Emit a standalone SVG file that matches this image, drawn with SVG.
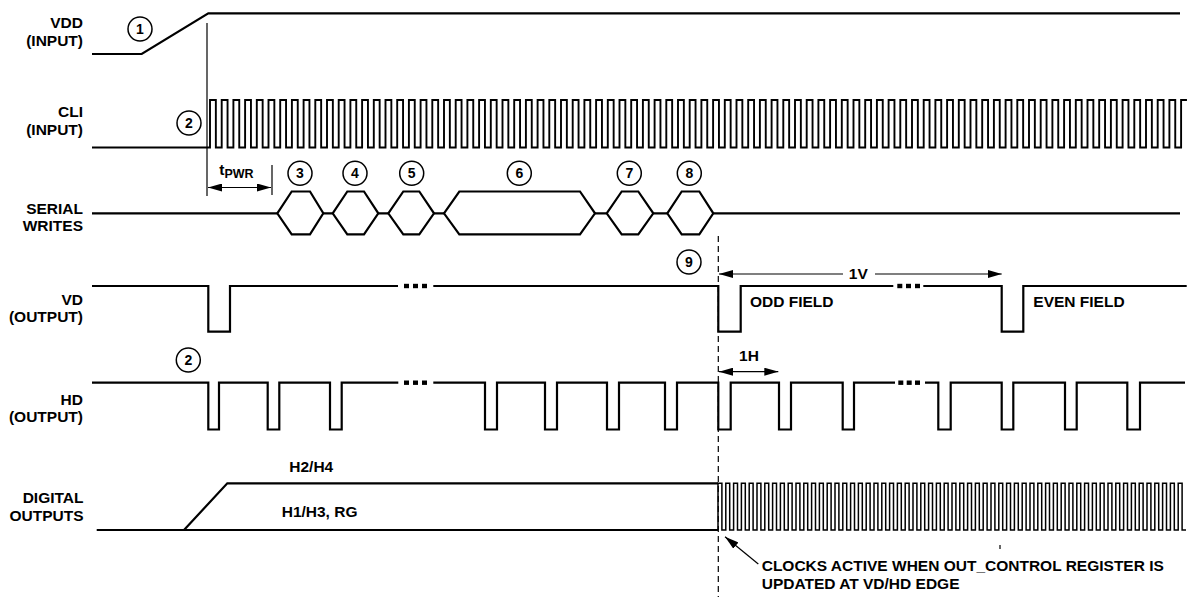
<svg xmlns="http://www.w3.org/2000/svg" width="1204" height="597" viewBox="0 0 1204 597">
<style>
.w{fill:none;stroke:#000;stroke-width:2.2;stroke-linejoin:miter;stroke-linecap:butt}
.ck{fill:none;stroke:#000;stroke-width:1.9;stroke-linejoin:miter}
.ck2{fill:none;stroke:#000;stroke-width:1.5;stroke-linejoin:miter}
.thin{fill:none;stroke:#000;stroke-width:1.2}
.hex{fill:none;stroke:#000;stroke-width:2.2;stroke-linejoin:miter}
.t{font-family:"Liberation Sans",Arial,Helvetica,sans-serif;font-weight:bold;font-size:15.5px;fill:#000}
.lbl{text-anchor:end}
.cn circle{fill:#fff;stroke:#000;stroke-width:1.5}
.cn text{font-family:"Liberation Sans",Arial,Helvetica,sans-serif;font-weight:bold;font-size:14px;text-anchor:middle;fill:#000}
.dot{fill:#000}
</style>
<defs>
<marker id="ah" viewBox="0 0 14 8" refX="14" refY="4" markerWidth="14" markerHeight="8" markerUnits="userSpaceOnUse" orient="auto-start-reverse"><path d="M0,0 L14,4 L0,8 z" fill="#000"/></marker>
</defs>
<rect width="1204" height="597" fill="#fff"/>

<g id="vdd">
<text class="t lbl" x="83" y="28">VDD</text>
<text class="t lbl" x="83" y="45.5">(INPUT)</text>
<path class="w" d="M92,54 H141.7 L208.3,13.3 H1180"/>
<g class="cn"><circle cx="140" cy="29" r="12"/><text x="140" y="34">1</text></g>
</g>

<g id="cli">
<text class="t lbl" x="83" y="117">CLI</text>
<text class="t lbl" x="83" y="134.5">(INPUT)</text>
<path class="ck" d="M92,147.5 H210 V100
h5.85v47.5h5.85v-47.5h5.85v47.5h5.85v-47.5h5.85v47.5h5.85v-47.5h5.85v47.5h5.85v-47.5h5.85v47.5h5.85v-47.5h5.85v47.5h5.85v-47.5h5.85v47.5h5.85v-47.5h5.85v47.5h5.85v-47.5h5.85v47.5h5.85v-47.5h5.85v47.5h5.85v-47.5
h5.85v47.5h5.85v-47.5h5.85v47.5h5.85v-47.5h5.85v47.5h5.85v-47.5h5.85v47.5h5.85v-47.5h5.85v47.5h5.85v-47.5h5.85v47.5h5.85v-47.5h5.85v47.5h5.85v-47.5h5.85v47.5h5.85v-47.5h5.85v47.5h5.85v-47.5h5.85v47.5h5.85v-47.5
h5.85v47.5h5.85v-47.5h5.85v47.5h5.85v-47.5h5.85v47.5h5.85v-47.5h5.85v47.5h5.85v-47.5h5.85v47.5h5.85v-47.5h5.85v47.5h5.85v-47.5h5.85v47.5h5.85v-47.5h5.85v47.5h5.85v-47.5h5.85v47.5h5.85v-47.5h5.85v47.5h5.85v-47.5
h5.85v47.5h5.85v-47.5h5.85v47.5h5.85v-47.5h5.85v47.5h5.85v-47.5h5.85v47.5h5.85v-47.5h5.85v47.5h5.85v-47.5h5.85v47.5h5.85v-47.5h5.85v47.5h5.85v-47.5h5.85v47.5h5.85v-47.5h5.85v47.5h5.85v-47.5h5.85v47.5h5.85v-47.5
h5.85v47.5h5.85v-47.5h5.85v47.5h5.85v-47.5h5.85v47.5h5.85v-47.5h5.85v47.5h5.85v-47.5h5.85v47.5h5.85v-47.5h5.85v47.5h5.85v-47.5h5.85v47.5h5.85v-47.5h5.85v47.5h5.85v-47.5h5.85v47.5h5.85v-47.5h5.85v47.5h5.85v-47.5
h5.85v47.5h5.85v-47.5h5.85v47.5h5.85v-47.5h5.85v47.5h5.85v-47.5h5.85v47.5h5.85v-47.5h5.85v47.5h5.85v-47.5h5.85v47.5h5.85v-47.5h5.85v47.5h5.85v-47.5h5.85v47.5h5.85v-47.5h5.85v47.5h5.85v-47.5h5.85v47.5h5.85v-47.5
h5.85v47.5h5.85v-47.5h5.85v47.5h5.85v-47.5h5.85v47.5h5.85v-47.5h5.85v47.5h5.85v-47.5h5.85v47.5h5.85v-47.5h5.85v47.5h5.85v-47.5h5.85v47.5h5.85v-47.5h5.85v47.5h5.85v-47.5h5.85v47.5h5.85v-47.5h5.85v47.5h5.85v-47.5
h5.85v47.5h5.85v-47.5h5.85v47.5h5.85v-47.5h5.85v47.5h5.85v-47.5h5.85v47.5h5.85v-47.5h5.85v47.5h5.85v-47.5h5.85v47.5h5.85v-47.5h5.85v47.5h5.85v-47.5h5.85v47.5h5.85v-47.5h5.85v47.5h5.85v-47.5h5.85v47.5h5.85v-47.5
h5.85v47.5h5.85v-47.5h5.85v47.5h5.85v-47.5h5.85v47.5h5.85v-47.5h5.85"/>
<g class="cn"><circle cx="189" cy="123" r="12"/><text x="189" y="128">2</text></g>
</g>

<g id="serial">
<text class="t lbl" x="83" y="214">SERIAL</text>
<text class="t lbl" x="83" y="231">WRITES</text>
<path class="w" d="M92,213.3 H277.3 M323.3,213.3 H332.7 M378.3,213.3 H388.3 M434,213.3 H444 M595,213.3 H606.7 M653.3,213.3 H667.3 M713.3,213.3 H1180"/>
<polygon class="hex" points="277.3,213.3 291.7,191.5 310,191.5 323.3,213.3 310,234.3 291.7,234.3"/>
<polygon class="hex" points="332.7,213.3 347.3,191.5 364,191.5 378.3,213.3 364,234.3 347.3,234.3"/>
<polygon class="hex" points="388.3,213.3 403.3,191.5 419.3,191.5 434,213.3 419.3,234.3 403.3,234.3"/>
<polygon class="hex" points="444,213.3 459.3,191.5 580,191.5 595,213.3 580,234.3 459.3,234.3"/>
<polygon class="hex" points="606.7,213.3 621.7,191.5 638.3,191.5 653.3,213.3 638.3,234.3 621.7,234.3"/>
<polygon class="hex" points="667.3,213.3 681.7,191.5 699.3,191.5 713.3,213.3 699.3,234.3 681.7,234.3"/>
<g class="cn"><circle cx="300" cy="173.3" r="12"/><text x="300" y="178.3">3</text></g>
<g class="cn"><circle cx="355" cy="173.3" r="12"/><text x="355" y="178.3">4</text></g>
<g class="cn"><circle cx="411.7" cy="173.3" r="12"/><text x="411.7" y="178.3">5</text></g>
<g class="cn"><circle cx="519.3" cy="173.3" r="12"/><text x="519.3" y="178.3">6</text></g>
<g class="cn"><circle cx="629.3" cy="173.3" r="12"/><text x="629.3" y="178.3">7</text></g>
<g class="cn"><circle cx="689.3" cy="173.3" r="12"/><text x="689.3" y="178.3">8</text></g>
</g>

<g id="vd">
<text class="t lbl" x="83" y="305">VD</text>
<text class="t lbl" x="83" y="322">(OUTPUT)</text>
<path class="w" d="M92,286 H208.3 V331.7 H230 V286 H398 M433.3,286 H718.3 V331.7 H740.7 V286 H893.3 M923.3,286 H1001.7 V331.7 H1023.3 V286 H1186.7"/>
<rect class="dot" x="404" y="283.8" width="5" height="4.4"/>
<rect class="dot" x="413" y="283.8" width="5" height="4.4"/>
<rect class="dot" x="422" y="283.8" width="5" height="4.4"/>
<rect class="dot" x="897.3" y="283.8" width="5" height="4.4"/>
<rect class="dot" x="906" y="283.8" width="5" height="4.4"/>
<rect class="dot" x="915" y="283.8" width="5" height="4.4"/>
<text class="t" x="750" y="307">ODD FIELD</text>
<text class="t" x="1033.3" y="307">EVEN FIELD</text>
<g class="cn"><circle cx="689" cy="262" r="12"/><text x="689" y="267">9</text></g>
</g>

<g id="hd">
<text class="t lbl" x="83" y="405">HD</text>
<text class="t lbl" x="83" y="422">(OUTPUT)</text>
<path class="w" d="M92,382.7 H208.3 V429.5 H219 V382.7 H267.7 V429.5 H279.3 V382.7 H330 V429.5 H341.7 V382.7 H398.3 M433.3,382.7 H485 V429.5 H497 V382.7 H545 V429.5 H557 V382.7 H607 V429.5 H619 V382.7 H665 V429.5 H677 V382.7 H718.3 V429.5 H730.7 V382.7 H779 V429.5 H791 V382.7 H842.7 V429.5 H854 V382.7 H895 M925,382.7 H938.3 V429.5 H950.7 V382.7 H1001.7 V429.5 H1013.3 V382.7 H1065 V429.5 H1076.7 V382.7 H1127.3 V429.5 H1140 V382.7 H1185"/>
<rect class="dot" x="404" y="380.5" width="5" height="4.4"/>
<rect class="dot" x="413" y="380.5" width="5" height="4.4"/>
<rect class="dot" x="422" y="380.5" width="5" height="4.4"/>
<rect class="dot" x="898.3" y="380.5" width="5" height="4.4"/>
<rect class="dot" x="906.7" y="380.5" width="5" height="4.4"/>
<rect class="dot" x="915" y="380.5" width="5" height="4.4"/>
<g class="cn"><circle cx="188.3" cy="360" r="12"/><text x="188.3" y="365">2</text></g>
</g>

<g id="digital">
<text class="t lbl" x="83.5" y="503.3">DIGITAL</text>
<text class="t lbl" x="83.5" y="520.7">OUTPUTS</text>
<text class="t" x="289.3" y="471.7">H2/H4</text>
<text class="t" x="281.7" y="517.3">H1/H3, RG</text>
<path class="w" d="M96.7,530 H718 M184,530 L227.3,483.3 H718"/>
<path class="ck2" d="M718,530 V483.3
h3.9v46.7h3.9v-46.7h3.9v46.7h3.9v-46.7h3.9v46.7h3.9v-46.7h3.9v46.7h3.9v-46.7h3.9v46.7h3.9v-46.7h3.9v46.7h3.9v-46.7h3.9v46.7h3.9v-46.7h3.9v46.7h3.9v-46.7h3.9v46.7h3.9v-46.7h3.9v46.7h3.9v-46.7
h3.9v46.7h3.9v-46.7h3.9v46.7h3.9v-46.7h3.9v46.7h3.9v-46.7h3.9v46.7h3.9v-46.7h3.9v46.7h3.9v-46.7h3.9v46.7h3.9v-46.7h3.9v46.7h3.9v-46.7h3.9v46.7h3.9v-46.7h3.9v46.7h3.9v-46.7h3.9v46.7h3.9v-46.7
h3.9v46.7h3.9v-46.7h3.9v46.7h3.9v-46.7h3.9v46.7h3.9v-46.7h3.9v46.7h3.9v-46.7h3.9v46.7h3.9v-46.7h3.9v46.7h3.9v-46.7h3.9v46.7h3.9v-46.7h3.9v46.7h3.9v-46.7h3.9v46.7h3.9v-46.7h3.9v46.7h3.9v-46.7
h3.9v46.7h3.9v-46.7h3.9v46.7h3.9v-46.7h3.9v46.7h3.9v-46.7h3.9v46.7h3.9v-46.7h3.9v46.7h3.9v-46.7h3.9v46.7h3.9v-46.7h3.9v46.7h3.9v-46.7h3.9v46.7h3.9v-46.7h3.9v46.7h3.9v-46.7h3.9v46.7h3.9v-46.7
h3.9v46.7h3.9v-46.7h3.9v46.7h3.9v-46.7h3.9v46.7h3.9v-46.7h3.9v46.7h3.9v-46.7h3.9v46.7h3.9v-46.7h3.9v46.7h3.9v-46.7h3.9v46.7h3.9v-46.7h3.9v46.7h3.9v-46.7h3.9v46.7h3.9v-46.7h3.9v46.7h3.9v-46.7
h3.9v46.7h3.9v-46.7h3.9v46.7h3.9v-46.7h3.9v46.7h3.9v-46.7h3.9v46.7h3.9v-46.7h3.9v46.7h3.9v-46.7h3.9v46.7h3.9v-46.7h3.9v46.7h3.9v-46.7h3.9v46.7h3.9v-46.7h3.9v46.7h3.9v-46.7
h3.9v46.7h3.9"/>
<text class="t" x="761.7" y="571">CLOCKS ACTIVE WHEN OUT_CONTROL REGISTER IS</text>
<text class="t" x="761.7" y="589.3">UPDATED AT VD/HD EDGE</text>
</g>

<g id="connectors">
<line class="thin" x1="207" y1="23" x2="207" y2="196"/>
<line class="thin" x1="272" y1="165" x2="272" y2="195"/>
<line class="thin" x1="208" y1="187.5" x2="271" y2="187.5" marker-start="url(#ah)" marker-end="url(#ah)"/>
<text class="t" x="219.3" y="175">t<tspan font-size="12.5px" dy="3">PWR</tspan></text>
<line class="thin" x1="718.3" y1="236" x2="718.3" y2="597" stroke-dasharray="6 4"/>
<line class="thin" x1="719" y1="274" x2="843" y2="274" marker-start="url(#ah)"/>
<line class="thin" x1="875" y1="274" x2="1001.7" y2="274" marker-end="url(#ah)"/>
<text class="t" x="858.3" y="278.5" text-anchor="middle">1V</text>
<line class="thin" x1="719" y1="371.7" x2="778.3" y2="371.7" marker-start="url(#ah)" marker-end="url(#ah)"/>
<text class="t" x="749" y="360.7" text-anchor="middle">1H</text>
<line class="thin" x1="758.3" y1="564" x2="725" y2="536.7" marker-end="url(#ah)"/>
<line class="thin" x1="1000" y1="545" x2="1000" y2="549"/>
</g>
</svg>
